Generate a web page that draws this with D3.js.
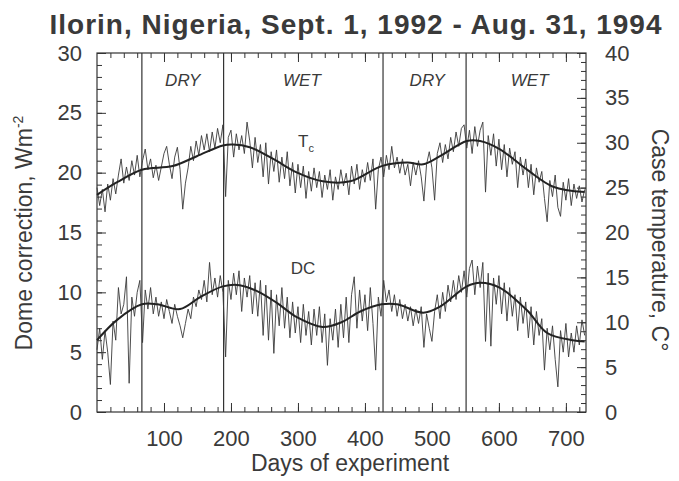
<!DOCTYPE html>
<html lang="en-US">
<head>
    <title>Ilorin dome correction</title>
    <meta charset="utf-8">
    <script src="https://cdn.jsdelivr.net/npm/d3@7"></script>
    <style>
        body { margin: 0; background: #fff; }
        text { font-family: 'Liberation Sans', Arial, sans-serif; fill: #3a3a3a; }
    </style>
</head>
<body>
    <svg></svg>
</body>
<script>

    // days of experiment, one reading every 4 days
    const days = d3.range(0, 729, 4);

    // case temperature Tc (deg C, right axis)
    const tc_values = [
        25.0, 23.0, 24.8, 22.3, 25.4, 23.6, 26.0, 24.3, 26.4, 28.2,
        25.5, 27.3, 25.8, 28.0, 26.4, 28.6, 26.2, 28.0, 29.3, 27.0,
        28.2, 26.1, 27.5, 25.8, 27.3, 28.8, 29.6, 27.6, 26.0, 28.4,
        29.5, 27.0, 22.6, 25.5, 27.2, 29.6, 28.0, 30.2, 28.6, 30.8,
        29.2, 31.0, 29.0, 31.2, 29.4, 31.6, 30.0, 32.0, 24.0, 30.6,
        31.4, 28.4, 31.0, 29.2, 30.8, 28.8, 32.3, 30.2, 27.2, 30.6,
        27.8, 29.8, 26.2, 30.0, 25.4, 29.0, 26.8, 29.2, 25.6, 28.4,
        26.0, 29.0, 25.2, 27.8, 24.4, 27.6, 25.0, 27.4, 23.8, 26.8,
        24.6, 27.2, 25.0, 26.8, 23.9, 26.4, 24.8, 27.0, 23.6, 26.2,
        24.8, 27.0, 25.2, 26.6, 24.2, 27.4, 25.4, 27.6, 24.8, 27.0,
        25.6, 27.8, 25.8, 28.2, 22.6, 27.0, 28.4, 26.2, 28.6, 27.0,
        29.6, 27.2, 28.4, 26.6, 28.2, 26.4, 27.6, 25.2, 27.8, 26.4,
        28.0, 26.2, 23.5, 27.6, 29.0, 27.2, 23.6, 28.8, 30.0, 27.8,
        29.8, 28.2, 30.6, 29.0, 31.2, 29.6, 31.6, 32.0, 29.4, 31.4,
        28.8, 31.8, 29.6, 31.4, 32.3, 24.5, 30.8, 28.6, 31.0, 27.4,
        30.4, 27.0, 29.8, 26.2, 29.4, 27.6, 29.0, 25.0, 28.4, 26.4,
        28.2, 25.0, 27.6, 24.2, 27.2, 25.6, 26.8, 23.8, 21.2, 25.8,
        24.0, 26.4, 22.8, 21.8, 25.6, 23.6, 26.0, 23.0, 25.4, 23.8,
        25.2, 23.4, 24.8
    ];

    // dome correction DC (W m-2, left axis)
    const dc_values = [
        5.2, 7.0, 4.4, 6.8, 5.0, 2.3, 7.6, 6.0, 10.4, 8.2,
        9.0, 11.3, 2.4, 9.6, 8.0, 10.0, 11.0, 5.8, 10.2, 8.6,
        10.4, 8.2, 9.6, 8.0, 9.2, 7.8, 9.4, 8.4, 7.4, 9.0,
        8.0, 7.2, 6.2, 7.4, 8.6, 7.8, 9.6, 8.8, 10.2, 9.4,
        11.0, 9.2, 12.5, 9.8, 11.2, 9.6, 11.4, 10.0, 4.6, 11.0,
        9.4, 11.6, 9.8, 11.8, 8.4, 11.2, 9.6, 11.4, 8.2, 10.8,
        8.0, 11.0, 6.4, 10.6, 6.0, 10.2, 4.9, 9.8, 7.2, 10.4,
        7.0, 9.6, 6.2, 9.2, 6.6, 8.8, 5.8, 9.0, 6.4, 8.4,
        5.6, 8.6, 6.4, 8.8, 5.8, 8.2, 3.9, 7.8, 6.0, 8.6,
        5.4, 9.0, 6.2, 9.6, 5.8, 9.8, 11.3, 7.0, 10.2, 7.6,
        9.8, 6.8, 10.4, 7.4, 3.5, 9.6, 8.0, 11.0, 9.2, 10.2,
        8.4, 9.8, 8.0, 9.4, 7.8, 9.0, 7.6, 8.8, 7.2, 8.6,
        7.4, 8.8, 5.4, 8.2, 7.0, 5.9, 8.4, 9.8, 7.8, 10.0,
        8.4, 10.6, 9.2, 11.0, 9.4, 11.4, 10.0, 11.8, 9.6, 12.0,
        12.7, 9.8, 12.2, 10.4, 12.5, 5.9, 11.6, 5.5, 11.2, 9.0,
        11.4, 8.2, 10.8, 7.6, 10.4, 8.0, 9.8, 6.8, 9.6, 7.4,
        9.2, 6.2, 8.8, 5.6, 8.4, 6.4, 7.8, 3.5, 7.0, 5.2,
        7.2, 4.4, 2.1, 6.8, 5.0, 7.4, 4.6, 6.6, 5.0, 7.2,
        5.6, 7.7, 6.4
    ];

    // smoothed curves
    const tc_smooth_days = [0, 30, 67, 113, 149, 188, 203, 228, 263, 298, 337, 378, 425, 463, 487, 512, 552, 572, 601, 642, 681, 728];
    const tc_smooth = [24.2, 25.6, 27.0, 27.4, 28.5, 29.7, 29.8, 29.5, 28.2, 26.7, 25.7, 25.7, 27.4, 27.8, 27.6, 28.5, 30.2, 30.2, 29.3, 27.0, 25.1, 24.5];

    const dc_smooth_days = [0, 30, 67, 90, 124, 154, 188, 213, 239, 269, 299, 337, 365, 393, 425, 448, 487, 512, 552, 572, 601, 642, 672, 710, 728];
    const dc_smooth = [6.0, 7.7, 9.0, 9.0, 8.6, 9.6, 10.5, 10.6, 10.1, 9.1, 7.9, 7.1, 7.5, 8.4, 9.0, 9.0, 8.3, 8.8, 10.5, 10.8, 10.4, 8.5, 6.6, 6.0, 5.9];

    // season boundaries
    const season_days = [67, 189, 427, 551];
    const season_labels = [
        { text: 'DRY', day: 128 }, { text: 'WET', day: 306 },
        { text: 'DRY', day: 493 }, { text: 'WET', day: 646 }
    ];

    const x_tick_labels = [100, 200, 300, 400, 500, 600, 700];
    const left_tick_labels = [0, 5, 10, 15, 20, 25, 30];
    const right_tick_labels = [0, 5, 10, 15, 20, 25, 30, 35, 40];

    let opt = {
        width: 679,
        height: 481,
        ink: '#333',
        bounds: { left: 97, right: 586, top: 53, bottom: 412 },
        tick_major: 9,
        tick_minor: 5
    };

    let svg = d3.select('svg')
        .attr('width', opt.width)
        .attr('height', opt.height);

    let b = opt.bounds;

    let xScale = d3.scaleLinear().domain([0, 730]).range([b.left, b.right]);
    let yLeft = d3.scaleLinear().domain([0, 30]).range([b.bottom, b.top]);
    let yRight = d3.scaleLinear().domain([0, 40]).range([b.bottom, b.top]);

    // Title
    svg.append('text')
        .attr('x', 356)
        .attr('y', 34)
        .attr('text-anchor', 'middle')
        .style('font-size', '28px')
        .style('font-weight', 'bold')
        .style('letter-spacing', '1px')
        .text('Ilorin, Nigeria, Sept. 1, 1992 - Aug. 31, 1994');

    // Axes: minor ticks first, then major ticks with labels
    function styleAxis(g) {
        g.select('.domain').remove();
        g.selectAll('line').attr('stroke', opt.ink).attr('stroke-width', 1);
        g.selectAll('text').style('font-size', '22px').attr('fill', '#3a3a3a');
    }

    // bottom
    svg.append('g')
        .attr('transform', `translate(0,${b.bottom})`)
        .call(d3.axisBottom(xScale).tickValues(d3.range(20, 730, 20)).tickSize(-opt.tick_minor).tickFormat(''))
        .call(styleAxis);
    svg.append('g')
        .attr('transform', `translate(0,${b.bottom})`)
        .call(d3.axisBottom(xScale).tickValues(x_tick_labels).tickSizeInner(-opt.tick_major).tickPadding(18))
        .call(styleAxis);

    // top
    svg.append('g')
        .attr('transform', `translate(0,${b.top})`)
        .call(d3.axisTop(xScale).tickValues(d3.range(20, 730, 20)).tickSize(-opt.tick_minor).tickFormat(''))
        .call(styleAxis);
    svg.append('g')
        .attr('transform', `translate(0,${b.top})`)
        .call(d3.axisTop(xScale).tickValues(x_tick_labels).tickSize(-opt.tick_major).tickFormat(''))
        .call(styleAxis);

    // left
    svg.append('g')
        .attr('transform', `translate(${b.left},0)`)
        .call(d3.axisLeft(yLeft).tickValues(d3.range(1, 30, 1)).tickSize(-opt.tick_minor).tickFormat(''))
        .call(styleAxis);
    svg.append('g')
        .attr('transform', `translate(${b.left},0)`)
        .call(d3.axisLeft(yLeft).tickValues(left_tick_labels).tickSizeInner(-opt.tick_major).tickPadding(15))
        .call(styleAxis);

    // right
    svg.append('g')
        .attr('transform', `translate(${b.right},0)`)
        .call(d3.axisRight(yRight).tickValues(d3.range(1, 40, 1)).tickSize(-opt.tick_minor).tickFormat(''))
        .call(styleAxis);
    svg.append('g')
        .attr('transform', `translate(${b.right},0)`)
        .call(d3.axisRight(yRight).tickValues(right_tick_labels).tickSizeInner(-opt.tick_major).tickPadding(19))
        .call(styleAxis);

    // frame
    svg.append('rect')
        .attr('x', b.left)
        .attr('y', b.top)
        .attr('width', b.right - b.left)
        .attr('height', b.bottom - b.top)
        .attr('fill', 'none')
        .attr('stroke', opt.ink)
        .attr('stroke-width', 1.2);

    // season dividers
    svg.append('g')
        .selectAll('line')
        .data(season_days)
        .enter()
        .append('line')
        .attr('x1', d => xScale(d))
        .attr('x2', d => xScale(d))
        .attr('y1', b.top)
        .attr('y2', b.bottom)
        .attr('stroke', opt.ink)
        .attr('stroke-width', 1.2);

    svg.append('g')
        .selectAll('text')
        .data(season_labels)
        .enter()
        .append('text')
        .attr('x', d => xScale(d.day))
        .attr('y', 86)
        .attr('text-anchor', 'middle')
        .style('font-size', '17px')
        .style('font-style', 'italic')
        .text(d => d.text);

    // noisy daily series
    let tcLine = d3.line()
        .x((d, i) => xScale(days[i]))
        .y(d => yRight(d));

    let dcLine = d3.line()
        .x((d, i) => xScale(days[i]))
        .y(d => yLeft(d));

    svg.append('path')
        .datum(tc_values)
        .attr('d', tcLine)
        .attr('fill', 'none')
        .attr('stroke', '#3a3a3a')
        .attr('stroke-width', 0.9);

    svg.append('path')
        .datum(dc_values)
        .attr('d', dcLine)
        .attr('fill', 'none')
        .attr('stroke', '#3a3a3a')
        .attr('stroke-width', 0.9);

    // smoothed curves
    let tcSmooth = d3.line()
        .x((d, i) => xScale(tc_smooth_days[i]))
        .y(d => yRight(d))
        .curve(d3.curveCatmullRom);

    let dcSmooth = d3.line()
        .x((d, i) => xScale(dc_smooth_days[i]))
        .y(d => yLeft(d))
        .curve(d3.curveCatmullRom);

    svg.append('path')
        .datum(tc_smooth)
        .attr('d', tcSmooth)
        .attr('fill', 'none')
        .attr('stroke', '#222')
        .attr('stroke-width', 2);

    svg.append('path')
        .datum(dc_smooth)
        .attr('d', dcSmooth)
        .attr('fill', 'none')
        .attr('stroke', '#222')
        .attr('stroke-width', 2);

    // series labels
    let tcLabel = svg.append('text')
        .attr('x', 298)
        .attr('y', 147)
        .style('font-size', '17px');
    tcLabel.append('tspan').text('T');
    tcLabel.append('tspan').attr('dy', 5).style('font-size', '11px').text('c');

    svg.append('text')
        .attr('x', 303)
        .attr('y', 274)
        .attr('text-anchor', 'middle')
        .style('font-size', '17px')
        .text('DC');

    // axis titles
    svg.append('text')
        .attr('x', 350)
        .attr('y', 471)
        .attr('text-anchor', 'middle')
        .style('font-size', '23px')
        .text('Days of experiment');

    let yTitle = svg.append('text')
        .attr('text-anchor', 'middle')
        .attr('transform', 'translate(32,233) rotate(-90)')
        .style('font-size', '23px');
    yTitle.append('tspan').text('Dome correction, Wm');
    yTitle.append('tspan').attr('dy', -9).style('font-size', '14px').text('-2');

    svg.append('text')
        .attr('text-anchor', 'middle')
        .attr('transform', 'translate(652,240) rotate(90)')
        .style('font-size', '23px')
        .text('Case temperature, C\u00b0');

</script>
</html>
